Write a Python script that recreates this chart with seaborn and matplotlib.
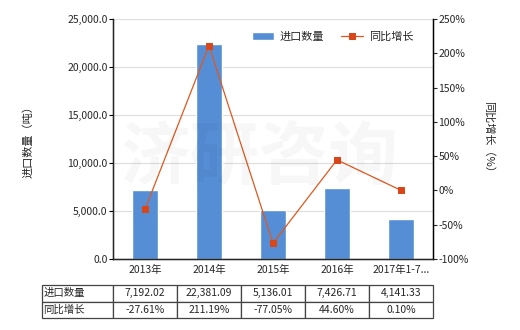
import numpy as np
import pandas as pd
import matplotlib
matplotlib.use("Agg")
import matplotlib.pyplot as plt
import seaborn as sns
from matplotlib.ticker import FuncFormatter

categories = ["2013年", "2014年", "2015年", "2016年", "2017年1-7..."]
import_qty = [7192.02, 22381.09, 5136.01, 7426.71, 4141.33]
yoy_growth = [-27.61, 211.19, -77.05, 44.60, 0.10]
qty_labels = ["7,192.02", "22,381.09", "5,136.01", "7,426.71", "4,141.33"]
yoy_labels = ["-27.61%", "211.19%", "-77.05%", "44.60%", "0.10%"]
series_names = ["进口数量", "同比增长"]

sns.set_style("white")
plt.rcParams['font.family'] = ['Noto Sans CJK SC', 'DejaVu Sans']

BAR = "#558ED5"
LINE = "#E0581F"

fig = plt.figure(figsize=(5.2, 3.3), dpi=100)
ax = fig.add_axes([113/520, 1-259/330, 320/520, 240/330])

df = pd.DataFrame({"cat": categories, "qty": import_qty, "yoy": yoy_growth})
sns.barplot(data=df, x="cat", y="qty", ax=ax, color=BAR, width=0.41,
            saturation=1, label=series_names[0])
ax.set_ylim(0, 25000)
ax.set_yticks(np.arange(0, 25001, 5000))
ax.yaxis.set_major_formatter(FuncFormatter(lambda v, p: f"{v:,.1f}"))
ax.grid(axis="y", color="#DDDDDD", linewidth=0.8)
ax.set_axisbelow(True)
ax.set_xlabel("")
ax.set_ylabel("进口数量（吨）", fontsize=8, labelpad=24)
ax.tick_params(axis="both", labelsize=7.5, length=3, color="black", direction="out")
ax.tick_params(axis="y", pad=1)
ax.tick_params(axis="x", pad=1)
ax.set_xlim(-0.5, 4.5)
for s in ["left", "bottom", "right"]:
    ax.spines[s].set_color("black")
    ax.spines[s].set_linewidth(1)
ax.spines["top"].set_visible(False)

ax2 = ax.twinx()
sns.lineplot(x=np.arange(len(categories)), y=yoy_growth, ax=ax2, color=LINE,
             linewidth=0.9, marker="s", markersize=5, markerfacecolor="#D9461A",
             markeredgecolor="#D9461A", label=series_names[1])
ax2.set_ylim(-100, 250)
ax2.set_yticks(np.arange(-100, 251, 50))
ax2.yaxis.set_major_formatter(FuncFormatter(lambda v, p: f"{v:.0f}%"))
ax2.tick_params(axis="y", labelsize=7.5, length=3, pad=1)
ax2.set_ylabel("同比增长（%）", fontsize=8, rotation=270, labelpad=18)
ax2.spines["top"].set_visible(False)
ax2.spines["right"].set_color("black")
ax2.grid(False)
ax2.set_xlim(-0.5, 4.5)

h1, l1 = ax.get_legend_handles_labels()
h2, l2 = ax2.get_legend_handles_labels()
if ax2.get_legend():
    ax2.get_legend().remove()
if ax.get_legend():
    ax.get_legend().remove()
ax2.legend(h1 + h2, l1 + l2, loc="upper right", bbox_to_anchor=(0.97, 0.99),
           ncol=2, frameon=False, fontsize=8, handlelength=2.0, columnspacing=1.5,
           handletextpad=0.5)

# watermark
fig.text(0.5, 0.52, "济研咨询", fontsize=50, color="#000000", alpha=0.03,
         ha="center", va="center", fontweight="bold")

# data table
cell_text = [[series_names[0]] + qty_labels, [series_names[1]] + yoy_labels]
tbl = ax.table(cellText=cell_text, cellLoc="center",
               colWidths=[71/320] + [64/320]*5,
               bbox=[-71/320, (259-318)/240, 391/320, 33/240])
tbl.auto_set_font_size(False)
tbl.set_fontsize(7.5)
for (r, c), cell in tbl.get_celld().items():
    cell.set_edgecolor("#444444")
    cell.set_linewidth(0.9)
    if c == 0:
        cell.get_text().set_ha("left")
        cell.PAD = 0.02

fig.savefig("out.png", dpi=100)
